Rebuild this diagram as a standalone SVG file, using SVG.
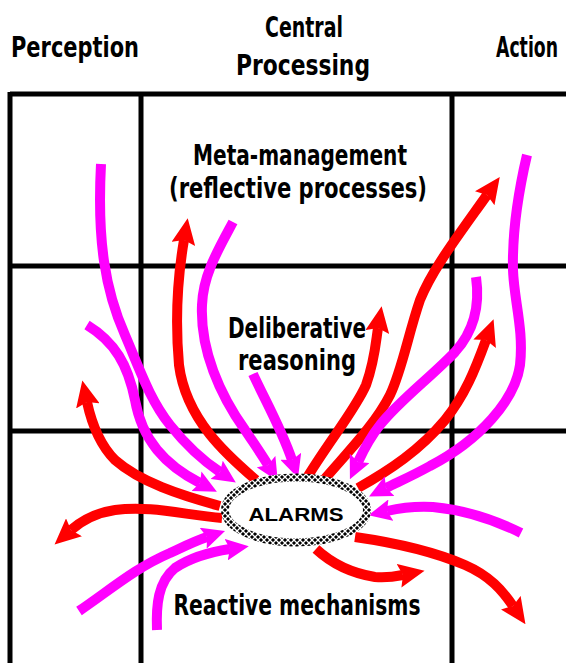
<svg xmlns="http://www.w3.org/2000/svg" width="566" height="663" viewBox="0 0 566 663">
<style>
.hdr{font-family:"Liberation Sans Narrow","Arial Narrow","DejaVu Sans Condensed",sans-serif;font-weight:bold;font-size:29px;fill:#000;text-anchor:middle}
.lbl{font-family:"Liberation Sans Narrow","Arial Narrow","DejaVu Sans Condensed",sans-serif;font-weight:bold;font-size:28px;fill:#000;text-anchor:middle}
.grid{stroke:#000;stroke-width:5;fill:none}
.red{fill:none;stroke:#ff0000;stroke-width:10;marker-end:url(#rh)}
.mag{fill:none;stroke:#ff00ff;stroke-width:10;marker-end:url(#mh)}
</style>
<defs>
<marker id="rh" markerUnits="userSpaceOnUse" markerWidth="26" markerHeight="24" viewBox="0 0 26 24" refX="4" refY="12" orient="auto"><path d="M0,0 L26,12 L0,24 L4,12 z" fill="#ff0000"/></marker>
<marker id="mh" markerUnits="userSpaceOnUse" markerWidth="23" markerHeight="22" viewBox="0 0 23 22" refX="4" refY="11" orient="auto"><path d="M0,0 L23,11 L0,22 L4,11 z" fill="#ff00ff"/></marker>
<pattern id="chain" patternUnits="userSpaceOnUse" width="6" height="6"><rect width="6" height="6" fill="#000"/><path d="M0,0 L6,6 M6,0 L0,6" stroke="#fff" stroke-width="1.3"/></pattern>
</defs>
<rect width="566" height="663" fill="#fff"/>
<g id="headers">
<text class="hdr" x="75" y="57" textLength="128" lengthAdjust="spacingAndGlyphs">Perception</text>
<text class="hdr" x="304" y="37" textLength="78" lengthAdjust="spacingAndGlyphs">Central</text>
<text class="hdr" x="303" y="75" textLength="134" lengthAdjust="spacingAndGlyphs">Processing</text>
<text class="hdr" x="527" y="57" textLength="62" lengthAdjust="spacingAndGlyphs">Action</text>
</g>
<g id="grid" class="grid">
<path d="M10,94 H566 M10,266 H566 M10,431 H566"/>
<path d="M10,92 V663 M141,92 V663 M452,92 V663"/>
</g>
<g id="meta-management">
<text class="lbl" x="300" y="165" textLength="214" lengthAdjust="spacingAndGlyphs">Meta-management</text>
<text class="lbl" x="298" y="198" textLength="258" lengthAdjust="spacingAndGlyphs">(reflective processes)</text>
</g>
<g id="deliberative">
<text class="lbl" x="297" y="338" textLength="138" lengthAdjust="spacingAndGlyphs">Deliberative</text>
<text class="lbl" x="297" y="370" textLength="118" lengthAdjust="spacingAndGlyphs">reasoning</text>
</g>
<g id="reactive">
<text class="lbl" x="297" y="615" textLength="247" lengthAdjust="spacingAndGlyphs">Reactive mechanisms</text>
</g>
<g id="connectors">
<path class="mag" d="M101,164 C97,240 105,290 125,335 C140,370 150,400 170,425 C190,450 205,462 220,472"/>
<path class="mag" d="M87,325 C115,342 128,365 135,400 C142,440 165,465 200,483"/>
<path class="red" d="M256,480 C228,456 186,420 179,365 C175,320 178,275 184,240"/>
<path class="mag" d="M233,222 C218,250 203,275 202,305 C200,350 220,395 245,430 C255,445 262,455 268,465"/>
<path class="mag" d="M253,374 C265,400 282,430 292,460"/>
<path class="red" d="M220,506 C180,495 140,482 115,460 C100,445 92,425 87,402"/>
<path class="red" d="M222,518 C185,515 150,505 115,510 C95,513 80,522 71,530"/>
<path class="mag" d="M79,611 C110,590 135,568 170,553 C185,546 195,541 207,537"/>
<path class="mag" d="M157,630 C156,605 158,582 175,568 C190,558 210,552 230,549"/>
<path class="red" d="M308,476 C330,440 355,410 366,385 C375,360 376,340 378,328"/>
<path class="red" d="M323,481 C345,455 375,425 390,395 C402,370 408,335 420,300 C432,270 455,240 487,195"/>
<path class="mag" d="M476,277 C480,305 475,330 455,352 C430,378 400,400 380,425 C372,435 366,445 358,462"/>
<path class="red" d="M358,488 C390,470 420,450 445,420 C465,395 475,370 486,340"/>
<path class="mag" d="M527,155 C520,185 512,230 513,270 C514,300 524,330 520,365 C515,400 480,440 430,466 C412,476 398,482 386,488"/>
<path class="mag" d="M521,533 C495,520 465,510 433,507 C415,506 400,508 387,511"/>
<path class="red" d="M355,537 C390,542 430,550 465,565 C490,576 502,590 513,606"/>
<path class="red" d="M316,549 C330,562 350,573 375,577 C385,578 393,577 403,575"/>
</g>
<g id="alarms">
<ellipse cx="296" cy="510" rx="71" ry="32.5" fill="#fff" stroke="url(#chain)" stroke-width="8"/>
<text x="296" y="521" font-family="'Liberation Sans',Arial,sans-serif" font-weight="bold" font-size="18" text-anchor="middle" textLength="95" lengthAdjust="spacingAndGlyphs">ALARMS</text>
</g>
</svg>
